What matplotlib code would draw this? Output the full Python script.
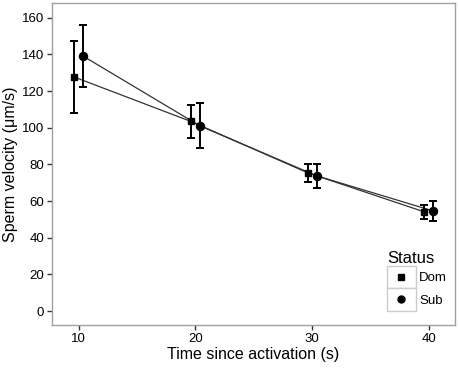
import matplotlib
matplotlib.use("Agg")
import matplotlib.pyplot as plt
from matplotlib.legend_handler import HandlerBase
from matplotlib.patches import Rectangle
from matplotlib.lines import Line2D
import numpy as np

# data
time = np.array([10, 20, 30, 40])
dom_mean = [127.6, 103.4, 75.4, 54.1]
dom_lo = [107.9, 94.4, 70.3, 50.4]
dom_hi = [147.5, 112.6, 80.1, 58.0]
sub_mean = [139.0, 101.0, 73.8, 54.6]
sub_lo = [122.4, 88.9, 67.3, 49.3]
sub_hi = [155.8, 113.7, 80.1, 59.8]

dodge = 0.38

plt.rcParams['font.family'] = ['Liberation Sans', 'DejaVu Sans']

fig = plt.figure(figsize=(4.59, 3.68), dpi=100)
ax = fig.add_axes([0.1133, 0.1168, 0.878, 0.875])

groups = [
    ("Dom", "s", 5.0, -dodge, dom_mean, dom_lo, dom_hi),
    ("Sub", "o", 5.8, dodge, sub_mean, sub_lo, sub_hi),
]
for name, mk, ms, off, m, lo, hi in groups:
    x = time + off
    m = np.array(m)
    yerr = [m - np.array(lo), np.array(hi) - m]
    ax.plot(x, m, color="#333333", lw=0.9, zorder=2)
    ax.errorbar(x, m, yerr=yerr, fmt="none", ecolor="black", elinewidth=1.4,
                capsize=3, capthick=1.4, zorder=3)
    ax.plot(x, m, linestyle="none", marker=mk, ms=ms, color="black", zorder=4)

ax.set_xlim(7.7, 42.25)
ax.set_ylim(-7.6, 168)
ax.set_xticks([10, 20, 30, 40])
ax.set_yticks(range(0, 161, 20))
for s in ax.spines.values():
    s.set_color("#a0a0a0")
    s.set_linewidth(1.0)
ax.tick_params(colors="#333333", length=3.5, width=1, labelsize=9.5,
               labelcolor="black", pad=2)
ax.set_xlabel("Time since activation (s)", fontsize=11.5, labelpad=2)
ax.set_ylabel("Sperm velocity (\u03bcm/s)", fontsize=11.5, labelpad=3)


class KeyHandler(HandlerBase):
    def create_artists(self, legend, orig_handle, xdescent, ydescent,
                       width, height, fontsize, trans):
        box = Rectangle((-xdescent, -ydescent), width, height,
                        facecolor="white", edgecolor="#cccccc", lw=1,
                        transform=trans)
        mk = Line2D([width / 2 - xdescent], [height / 2 - ydescent],
                    marker=orig_handle.get_marker(),
                    ms=orig_handle.get_markersize(), color="black",
                    linestyle="none", transform=trans)
        return [box, mk]


handles = [Line2D([], [], marker="s", ms=4.5, color="black", linestyle="none"),
           Line2D([], [], marker="o", ms=5, color="black", linestyle="none")]
leg = ax.legend(handles, ["Dom", "Sub"], title="Status", loc="lower left",
                bbox_to_anchor=(0.831, 0.045), frameon=False, fontsize=9.5,
                title_fontsize=12, handler_map={Line2D: KeyHandler()},
                handlelength=2.2, handleheight=2.2, labelspacing=0,
                handletextpad=0.25, borderpad=0, borderaxespad=0,
                alignment="left")

fig.savefig("out.png", dpi=100)
